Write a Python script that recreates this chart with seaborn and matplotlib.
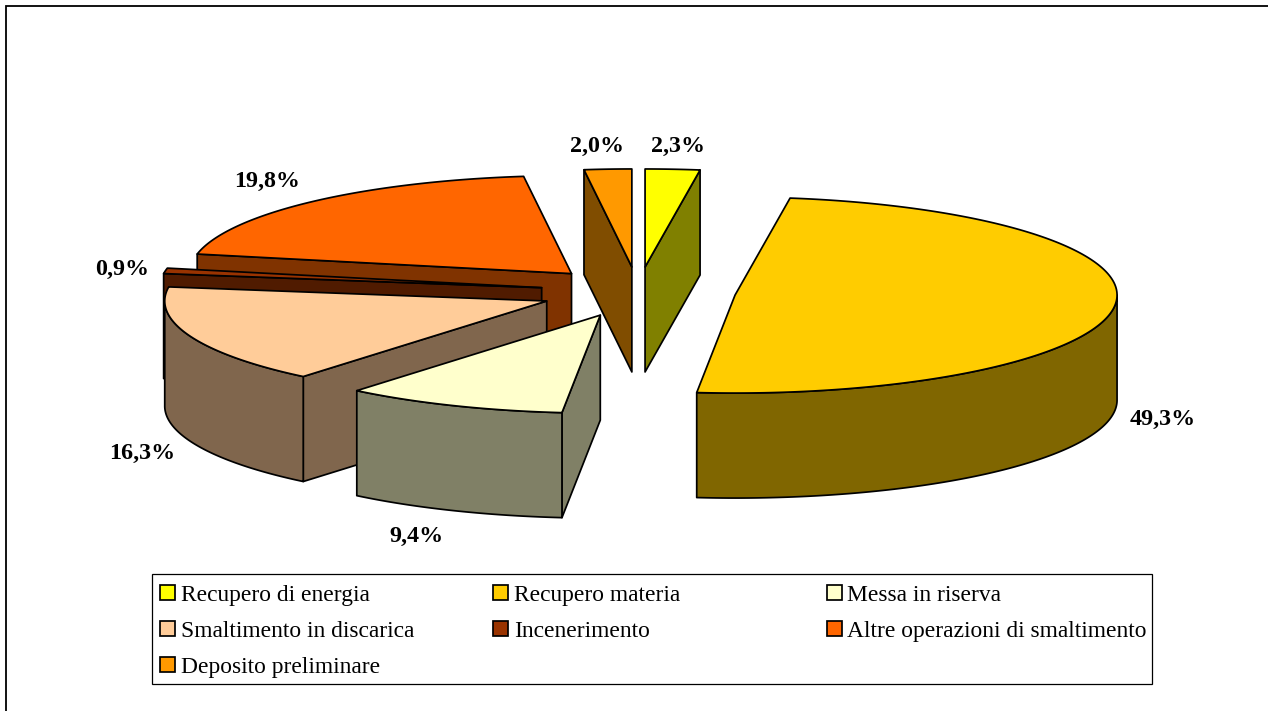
import numpy as np
import matplotlib
matplotlib.use("Agg")
import matplotlib.pyplot as plt
from matplotlib.patches import Polygon, Patch, Rectangle
import seaborn as sns

# ---- data ----
categories = ["Recupero di energia", "Recupero materia", "Messa in riserva",
              "Smaltimento in discarica", "Incenerimento",
              "Altre operazioni di smaltimento", "Deposito preliminare"]
shares = [2.3, 49.3, 9.4, 16.3, 0.9, 19.8, 2.0]
value_labels = ["2,3%", "49,3%", "9,4%", "16,3%", "0,9%", "19,8%", "2,0%"]
top_colours = ["#FFFF00", "#FFCC00", "#FFFFCC", "#FFCC99", "#993300", "#FF6600", "#FF9900"]

# ---- style / layout (pixels of the 1268x711 canvas) ----
CX, CY, RX, RY, DEPTH, EXPLODE = 638, 292, 382, 98, 105, 0.256
LABEL_XY = [(678, 146), (1163, 419), (416, 536), (142, 453), (122, 269), (267, 181), (597, 146)]
DRAW_ORDER = [5, 4, 3, 2, 0, 6, 1]
LW = 1.25
FONT = "Liberation Serif"

sns.set_theme(style="white", rc={"font.family": FONT})
palette = sns.color_palette(top_colours)
side = [tuple(c * 0.5 for c in col) for col in palette]
side[4] = tuple(c * 0.52 for c in palette[4])

fig = plt.figure(figsize=(12.68, 7.11), dpi=100, facecolor="white")
ax = fig.add_axes([0, 0, 1, 1])
ax.set_xlim(0, 1268)
ax.set_ylim(711, 0)
ax.axis("off")

# outer frame: only left and top edges fall inside the picture
ax.plot([6, 6, 1268], [711, 6, 6], color="black", lw=1.3, zorder=0.5,
        solid_joinstyle="miter")


def pt(c, a):
    return np.array([c[0] + RX * np.sin(a), c[1] - RY * np.cos(a)])


def face(xy, colour, z):
    ax.add_patch(Polygon(xy, closed=True, facecolor=colour, edgecolor="black",
                         lw=LW, joinstyle="round", zorder=z))


fractions = np.array(shares) / np.sum(shares)
edges = np.concatenate([[0], np.cumsum(fractions)]) * 2 * np.pi

for step, i in enumerate(DRAW_ORDER):
    a0, a1 = edges[i], edges[i + 1]
    mid = (a0 + a1) / 2
    c = np.array([CX + EXPLODE * RX * np.sin(mid), CY - EXPLODE * RY * np.cos(mid)])
    down = np.array([0, DEPTH])
    z = 2 + step
    p0, p1 = pt(c, a0), pt(c, a1)
    # cut faces that look towards the viewer
    if np.sin(a0) < -1e-9:
        face([c, p0, p0 + down, c + down], side[i], z)
    if np.sin(a1) > 1e-9:
        face([c, p1, p1 + down, c + down], side[i], z)
    # outer rim (front half of the ellipse only)
    lo, hi = max(a0, np.pi / 2), min(a1, 3 * np.pi / 2)
    if hi > lo:
        arc = np.array([pt(c, a) for a in np.linspace(lo, hi, 200)])
        face(np.vstack([arc, arc[::-1] + down]), side[i], z)
    # top of the slice
    arc = np.array([pt(c, a) for a in np.linspace(a0, a1, 300)])
    face(np.vstack([c, arc]), palette[i], z)

for (x, y), s in zip(LABEL_XY, value_labels):
    ax.text(x, y, s, ha="center", va="center", fontsize=17.3, fontweight="bold",
            fontfamily=FONT, color="black", zorder=20)

ax.add_patch(Rectangle((152, 574), 1000, 110, facecolor="white", edgecolor="black",
                       lw=0.9, zorder=29))
handles = [Patch(facecolor=palette[i], edgecolor="black", lw=LW) for i in range(len(categories))]
order = [0, 3, 6, 1, 4, 2, 5]
leg = ax.legend([handles[i] for i in order], [categories[i] for i in order],
                ncol=3, loc="upper left",
                bbox_to_anchor=(152 / 1268, (711 - 577) / 711), bbox_transform=fig.transFigure,
                prop={"family": FONT, "size": 16.9}, frameon=False,
                borderpad=0.34, labelspacing=0.63,
                handlelength=0.64, handleheight=0.64, handletextpad=0.25,
                columnspacing=0.55, borderaxespad=0)
leg.set_zorder(30)
for t in leg.get_texts():
    t.set_color("black")
# equal-width legend columns, like the original
leg._legend_handle_box.mode = "equal"

fig.savefig("out.png", dpi=100, facecolor="white")
